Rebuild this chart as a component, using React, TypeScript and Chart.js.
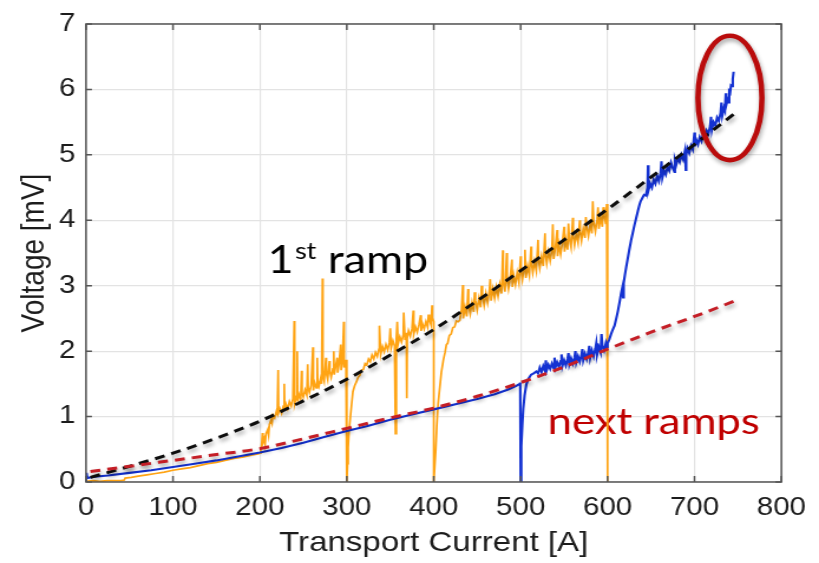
import { useEffect, useRef } from "react";
import { Chart, registerables } from "chart.js";

Chart.register(...registerables);

// Axis tick values
const xTickValues = [0, 100, 200, 300, 400, 500, 600, 700, 800];
const yTickValues = [0, 1, 2, 3, 4, 5, 6, 7];

// Fitted V(I) curves (dashed)
const firstRampFit: [number, number][] = [
  [5, 0.07], [50, 0.24], [100, 0.44], [150, 0.67], [200, 0.93], [250, 1.24], [300, 1.57], [350, 1.94],
  [400, 2.33], [450, 2.77], [500, 3.23], [550, 3.7], [600, 4.17], [650, 4.66], [700, 5.16], [745, 5.62],
];
const nextRampsFit: [number, number][] = [
  [5, 0.16], [50, 0.24], [100, 0.33], [150, 0.42], [200, 0.51], [250, 0.66], [300, 0.82], [350, 0.98],
  [400, 1.13], [450, 1.31], [500, 1.52], [550, 1.76], [600, 2.03], [650, 2.29], [700, 2.53], [745, 2.76],
];

// Measured voltage, first ramp (A, mV)
const firstRamp: [number, number][] = [
  [0, 0.01], [8, 0.02], [16, 0.01], [24, 0.02], [32, 0.02], [40, 0.02], [44, 0.03], [45, 0.06], [52, 0.07],
  [60, 0.09], [70, 0.11], [80, 0.13], [90, 0.15], [100, 0.18], [110, 0.2], [120, 0.22], [130, 0.25],
  [140, 0.28], [150, 0.3], [160, 0.33], [170, 0.36], [180, 0.38], [190, 0.41], [198, 0.43],
  [200, 0.44], [201, 0.5], [202, 0.56], [203, 0.75], [203.5, 0.6], [205, 0.66], [206, 0.58], [207, 0.74],
  [209, 0.8], [210, 0.72], [211, 0.88], [213, 0.95], [214, 0.9], [215, 1.02], [217, 0.98], [219, 1.08],
  [220, 1.02], [221, 1.71], [221.5, 1.06], [223, 1.12], [225, 1.05], [227, 1.16], [228, 1.5], [228.5, 1.09],
  [230, 1.19], [232, 1.12], [234, 1.23], [236, 1.16], [238, 1.27], [239.5, 2.46], [240, 1.2], [242, 1.31],
  [243, 2.0], [243.5, 1.23], [245, 1.34], [247, 1.27], [248, 1.7], [248.5, 1.37], [250, 1.3], [252, 1.41],
  [254, 1.33], [255, 1.8], [255.5, 1.44], [257, 1.37], [259, 1.48], [261, 2.06], [261.5, 1.4], [263, 1.52],
  [265, 1.44], [266, 1.9], [266.5, 1.55], [268, 1.47], [270, 1.59], [271, 1.5], [272, 3.11], [272.5, 1.62],
  [274, 1.54], [276, 1.9], [276.5, 1.66], [278, 1.57], [280, 1.85], [280.5, 1.69], [282, 1.6], [284, 1.73],
  [285, 2.0], [285.5, 1.64], [287, 1.76], [289, 1.9], [289.5, 1.67], [291, 1.8], [293, 2.1], [293.5, 1.71],
  [295, 1.84], [296.5, 2.45], [297, 1.75], [299, 1.87], [300, 1.78], [300, 0],
  [300.8, 0.28], [301.5, 0.53], [302.5, 0.76], [304, 0.98], [305.5, 1.18], [307, 1.38], [309, 1.47],
  [311, 1.53], [313, 1.6], [315, 1.63], [317, 1.71], [319, 1.72], [321, 1.81], [323, 1.79], [325, 1.88],
  [327, 1.84], [329, 1.94], [331, 1.88], [333, 1.98], [335, 1.92], [337, 2.03], [337.5, 2.39], [339, 1.95],
  [341, 2.07], [343, 1.99], [345, 2.1], [347, 2.02], [349, 2.13], [350, 2.35], [351, 2.05], [353, 2.16],
  [355, 2.08], [356, 0.74], [357, 2.19], [358, 2.45], [359, 2.11], [361, 2.22], [363, 2.14], [365, 2.25],
  [365.5, 2.59], [367, 2.17], [368.5, 2.28], [369, 1.28], [369.5, 2.2], [371, 2.31], [373, 2.23], [375, 2.34],
  [376.5, 2.62], [377, 2.26], [379, 2.37], [381, 2.29], [383, 2.4], [385, 2.55], [385.5, 2.31], [387, 2.42],
  [389, 2.34], [391, 2.45], [393, 2.37], [394, 2.56], [395, 2.48], [397, 2.4], [398, 2.7], [398.5, 2.51],
  [400, 2.45], [400, 0],
  [401, 0.2], [402.3, 0.48], [403.5, 0.85], [405, 1.19], [407, 1.45], [408.8, 1.68], [411, 1.86], [413, 1.98],
  [414.6, 2.1], [416, 2.12], [418, 2.24], [420, 2.26], [422, 2.36], [424, 2.37], [426, 2.46], [428, 2.45],
  [430, 2.47], [432, 2.64], [433.5, 3.01], [434, 2.5], [436, 2.67], [438, 2.53], [439.5, 2.95], [440, 2.71],
  [442, 2.57], [444, 2.74], [446, 2.6], [447, 2.9], [448, 2.78], [450, 2.63], [452, 2.81], [454, 2.67],
  [455, 3.0], [456, 2.85], [458, 2.7], [460, 2.88], [462, 2.74], [464, 2.92], [465, 3.1], [466, 2.77],
  [468, 2.95], [470, 2.81], [472, 2.98], [474, 2.84], [476, 3.02], [478, 2.88], [479.5, 3.54], [480, 3.05],
  [482, 2.91], [484, 3.5], [484.5, 3.08], [486, 2.95], [488, 3.12], [490, 3.4], [490.5, 2.98], [492, 3.16],
  [494, 3.02], [496, 3.2], [498, 3.05], [500, 3.45], [500.5, 3.23], [502, 3.09], [504, 3.27], [505, 3.55],
  [506, 3.12], [508, 3.3], [510, 3.16], [512, 3.6], [512.5, 3.34], [514, 3.2], [516, 3.37], [518, 3.23],
  [520, 3.7], [520.5, 3.41], [522, 3.27], [524, 3.45], [526, 3.3], [528, 3.8], [528.5, 3.48], [530, 3.34],
  [532, 3.52], [534, 3.38], [536, 3.56], [537, 3.94], [538, 3.41], [540, 3.59], [542, 3.85], [542.5, 3.45],
  [544, 3.63], [546, 3.48], [548, 3.66], [550, 3.9], [550.5, 3.52], [552, 3.7], [554, 3.55], [555, 3.95],
  [556, 3.73], [558, 3.59], [560, 4.04], [560.5, 3.77], [562, 3.62], [564, 3.8], [566, 3.66], [568, 4.0],
  [568.5, 3.84], [570, 3.69], [572, 3.87], [574, 3.73], [575, 4.05], [576, 3.91], [578, 3.76], [580, 3.94],
  [582, 3.8], [583, 4.29], [584, 3.98], [586, 3.83], [588, 4.01], [589, 4.2], [590, 3.87], [592, 4.05],
  [594, 3.9], [595, 4.2], [596, 4.08], [598, 3.94], [599, 4.25], [600, 4.1], [600, 0],
];

// Measured voltage, next ramps (A, mV)
const nextRamps: [number, number][] = [
  [0, 0], [0.5, 0.14], [1.5, 0.06], [10, 0.08], [25, 0.1], [50, 0.14], [75, 0.18], [100, 0.23], [125, 0.28],
  [150, 0.33], [175, 0.39], [200, 0.45], [225, 0.52], [250, 0.6], [275, 0.69], [300, 0.78], [325, 0.86],
  [350, 0.95], [375, 1.03], [400, 1.11], [425, 1.19], [450, 1.27], [470, 1.34], [485, 1.41], [495, 1.47],
  [499, 1.5], [499.5, 1.52], [500, 0],
  [500.5, 0.3], [501, 0.55], [502, 0.9], [503, 1.12], [504.5, 1.32], [506.5, 1.49], [509, 1.58], [512, 1.64],
  [515, 1.66], [518, 1.69], [520, 1.66], [522, 1.75], [524, 1.68], [526, 1.77], [528, 1.7], [529, 1.86],
  [530, 1.71], [532, 1.79], [534, 1.73], [536, 1.81], [538, 1.74], [539, 1.9], [540, 1.75], [542, 1.83],
  [544, 1.76], [546, 1.85], [547, 1.95], [548, 1.77], [550, 1.86], [552, 1.78], [554, 1.88], [555, 1.97],
  [556, 1.8], [558, 1.89], [560, 1.81], [562, 1.9], [563, 2.0], [564, 1.83], [566, 1.92], [568, 1.84],
  [570, 1.94], [571, 2.03], [572, 1.86], [574, 1.96], [576, 1.88], [578, 1.99], [579, 2.08], [580, 1.9],
  [582, 2.01], [584, 1.92], [586, 2.04], [587, 2.12], [588, 1.95], [590, 2.06], [592, 1.98], [593, 2.26],
  [594, 2.08], [596, 2.01], [598, 2.12], [599, 2.06],
  [600, 2.12], [602, 2.18], [604, 2.26], [606, 2.33], [608, 2.39], [610, 2.5], [612, 2.62], [614, 2.76],
  [615.7, 2.89], [617, 2.97], [618, 2.82], [618.5, 3.04], [620, 3.17], [621.5, 3.29], [623, 3.4], [625, 3.55],
  [627, 3.69], [629, 3.81], [631, 3.93], [633, 4.04], [635, 4.15], [636.8, 4.24], [638, 4.29], [640, 4.34],
  [642, 4.39], [644, 4.38], [646, 4.5], [646.5, 4.84], [647, 4.46], [649, 4.56], [651, 4.5], [653, 4.62],
  [655, 4.56], [657, 4.68], [659, 4.6], [661, 4.72], [662, 4.9], [663, 4.65], [665, 4.76], [667, 4.7],
  [669, 4.82], [671, 4.76], [673, 4.88], [675, 4.8], [677, 4.74], [677.5, 4.92], [679, 4.85], [681, 4.95],
  [683, 4.89], [685, 5.0], [687, 4.93], [689, 5.06], [690, 4.77], [690.5, 5.0], [692, 5.1], [694, 5.03],
  [696, 5.14], [698, 5.08], [700, 5.34], [700.5, 5.13], [702, 5.23], [704, 5.16], [706, 5.27], [708, 5.21],
  [710, 5.32], [712, 5.26], [714, 5.37], [716, 5.32], [718, 5.44], [719, 5.58], [720, 5.38], [722, 5.5],
  [724, 5.45], [726, 5.57], [728, 5.52], [730, 5.64], [731, 5.8], [732, 5.6], [734, 5.72], [735, 5.68],
  [736, 5.94], [736.5, 5.76], [738, 5.84], [739, 5.8], [740, 5.97], [741, 5.95], [742, 6.06], [743, 6.05],
  [744, 6.16], [745, 6.27],
];

// The figure is drawn on a narrower backing canvas and widened by CSS.
const CANVAS_W = 694;
const CANVAS_H = 563;
const SHOWN_W = 819;

const AXIS_FONT = '"Liberation Sans", Arial, sans-serif';
const NOTE_FONT = 'Lato, "Open Sans", sans-serif';
const TEXT_COLOR = "#1c1c1c";

const toPoints = (rows: [number, number][]) => rows.map(([x, y]) => ({ x, y }));

// Box around the axes with inward tick marks on all four sides
const axesBox = {
  id: "axesBox",
  afterDatasetsDraw(chart: any) {
    const { ctx, chartArea: a, scales } = chart;
    const xs = scales.x;
    const ys = scales.y;
    ctx.save();
    ctx.strokeStyle = "#555555";
    ctx.lineWidth = 1.5;
    ctx.strokeRect(a.left, a.top, a.right - a.left, a.bottom - a.top);
    ctx.beginPath();
    for (const t of xs.ticks) {
      const p = xs.getPixelForValue(t.value);
      ctx.moveTo(p, a.bottom);
      ctx.lineTo(p, a.bottom - 6);
      ctx.moveTo(p, a.top);
      ctx.lineTo(p, a.top + 6);
    }
    for (const t of ys.ticks) {
      const p = ys.getPixelForValue(t.value);
      ctx.moveTo(a.left, p);
      ctx.lineTo(a.left + 5, p);
      ctx.moveTo(a.right, p);
      ctx.lineTo(a.right - 5, p);
    }
    ctx.stroke();
    ctx.restore();
  },
};

// Soft drop shadow under the dashed fit curves
const dashShadow = {
  id: "dashShadow",
  beforeDatasetDraw(chart: any, args: any) {
    if (!chart.data.datasets[args.index].borderDash) return;
    const ctx = chart.ctx;
    ctx.save();
    ctx.shadowColor = "rgba(0,0,0,0.38)";
    ctx.shadowBlur = 4;
    ctx.shadowOffsetX = 1;
    ctx.shadowOffsetY = 3;
  },
  afterDatasetDraw(chart: any, args: any) {
    if (!chart.data.datasets[args.index].borderDash) return;
    chart.ctx.restore();
  },
};

// Text notes and the highlight ring
const notes = {
  id: "notes",
  beforeDatasetsDraw(chart: any) {
    const { ctx, scales } = chart;
    const xs = scales.x;
    const ys = scales.y;
    ctx.save();
    ctx.textAlign = "left";
    ctx.textBaseline = "alphabetic";

    let px = xs.getPixelForValue(209);
    const py = ys.getPixelForValue(3.19);
    ctx.fillStyle = "#000000";
    ctx.font = `38px ${NOTE_FONT}`;
    ctx.fillText("1", px, py);
    px += ctx.measureText("1").width + 1;
    ctx.font = `23px ${NOTE_FONT}`;
    ctx.fillText("st", px, py - 14);
    px += ctx.measureText("st").width;
    ctx.font = `38px ${NOTE_FONT}`;
    ctx.fillText(" ramp", px, py);

    ctx.fillStyle = "#C00000";
    ctx.font = `37px ${NOTE_FONT}`;
    ctx.fillText("next ramps", xs.getPixelForValue(531), ys.getPixelForValue(0.74));
    ctx.restore();
  },
  afterDatasetsDraw(chart: any) {
    const { ctx, scales } = chart;
    const xs = scales.x;
    const ys = scales.y;
    const cx = xs.getPixelForValue(740.8);
    const cy = ys.getPixelForValue(5.87);
    const rx = xs.getPixelForValue(740.8 + 36.8) - cx;
    const ry = cy - ys.getPixelForValue(5.87 + 0.95);
    ctx.save();
    ctx.shadowColor = "rgba(0,0,0,0.35)";
    ctx.shadowBlur = 4;
    ctx.shadowOffsetX = 1;
    ctx.shadowOffsetY = 3;
    ctx.strokeStyle = "#BA0C0C";
    ctx.lineWidth = 4.6;
    ctx.beginPath();
    ctx.ellipse(cx, cy, rx, ry, 0, 0, Math.PI * 2);
    ctx.stroke();
    ctx.restore();
  },
};

export default function App() {
  const canvasRef = useRef<HTMLCanvasElement | null>(null);

  useEffect(() => {
    const canvas = canvasRef.current;
    if (!canvas) return;
    const chart = new Chart(canvas, {
      type: "line",
      data: {
        datasets: [
          {
            label: "next ramps fit",
            data: toPoints(nextRampsFit),
            borderColor: "#C41E26",
            borderWidth: 3,
            borderDash: [8.5, 6],
            cubicInterpolationMode: "monotone",
            pointRadius: 0,
          },
          {
            label: "1st ramp fit",
            data: toPoints(firstRampFit),
            borderColor: "#0d0d0d",
            borderWidth: 3,
            borderDash: [8.5, 6],
            cubicInterpolationMode: "monotone",
            pointRadius: 0,
          },
          {
            label: "next ramps",
            data: toPoints(nextRamps),
            borderColor: "#1432D2",
            borderWidth: 2.1,
            pointRadius: 0,
            tension: 0,
          },
          {
            label: "1st ramp",
            data: toPoints(firstRamp),
            borderColor: "#FFA414",
            borderWidth: 1.7,
            pointRadius: 0,
            tension: 0,
          },
        ],
      },
      options: {
        responsive: false,
        animation: false,
        devicePixelRatio: 1,
        events: [],
        layout: { padding: { left: 0, top: 17, right: CANVAS_W - 662.7, bottom: 0 } },
        plugins: { legend: { display: false }, tooltip: { enabled: false } },
        scales: {
          x: {
            type: "linear",
            min: xTickValues[0],
            max: xTickValues[xTickValues.length - 1],
            afterBuildTicks: (s: any) => {
              s.ticks = xTickValues.map((v) => ({ value: v }));
            },
            afterFit: (s: any) => {
              s.height = 81;
            },
            grid: { color: "#e3e3e3", lineWidth: 1.2, drawTicks: false },
            border: { display: false },
            ticks: {
              padding: 11,
              color: TEXT_COLOR,
              font: { family: AXIS_FONT, size: 25 },
              maxRotation: 0,
            },
            title: {
              display: true,
              text: "Transport Current [A]",
              color: TEXT_COLOR,
              font: { family: AXIS_FONT, size: 28 },
              padding: { top: 0, bottom: 3 },
            },
          },
          y: {
            type: "linear",
            min: yTickValues[0],
            max: yTickValues[yTickValues.length - 1],
            afterBuildTicks: (s: any) => {
              s.ticks = yTickValues.map((v) => ({ value: v }));
            },
            afterFit: (s: any) => {
              s.width = 72.9;
            },
            grid: { color: "#e3e3e3", lineWidth: 1.2, drawTicks: false },
            border: { display: false },
            ticks: {
              padding: 9,
              color: TEXT_COLOR,
              font: { family: AXIS_FONT, size: 25 },
            },
            title: {
              display: true,
              text: "Voltage [mV]",
              color: TEXT_COLOR,
              font: { family: AXIS_FONT, size: 28 },
              padding: { top: 12, bottom: 0 },
            },
          },
        },
      },
      plugins: [dashShadow, notes, axesBox],
    } as any);
    return () => chart.destroy();
  }, []);

  return (
    <div style={{ position: "fixed", left: 0, top: 0, width: SHOWN_W, height: CANVAS_H, background: "#ffffff" }}>
      <canvas
        ref={canvasRef}
        width={CANVAS_W}
        height={CANVAS_H}
        style={{ display: "block", width: `${SHOWN_W}px`, height: `${CANVAS_H}px` }}
      />
    </div>
  );
}
